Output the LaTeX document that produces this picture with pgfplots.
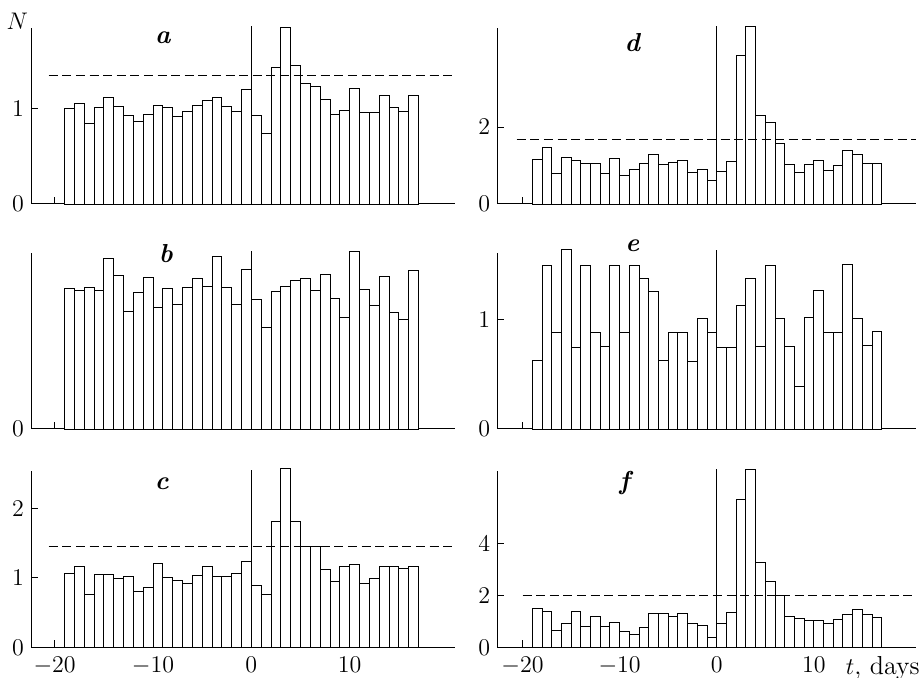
\documentclass[border=0pt]{standalone}
\usepackage{pgfplots}
\pgfplotsset{compat=1.18}
\tikzset{lett/.style={font=\fontsize{13}{15}\selectfont\bfseries\itshape}}
\begin{document}
\begin{tikzpicture}
\path[use as bounding box] (0,0) rectangle (459.5pt,339pt);
\pgfplotsset{
  panel/.style={scale only axis, height=88pt, anchor=south west,
    axis x line=bottom, axis y line=left,
    axis line style={-, line width=0.5pt},
    tick align=inside, major tick length=3.5pt,
    tick style={line width=0.5pt, black},
    xtick={-20,-10,0,10}, ymin=0, clip=false,
    ticklabel style={font=\fontsize{13}{15}\selectfont},
    xticklabel style={yshift=-1.2pt},
    every axis plot/.append style={line width=0.45pt}},
  lpanel/.style={width=212pt, xmin=-22.4, xmax=20.7},
  rpanel/.style={width=209.2pt, xmin=-22.6, xmax=20.5},
  notl/.style={xticklabels={}},
  bars/.style={ybar interval, fill=white, draw=black},
  dsh/.style={black, dash pattern=on 4.5pt off 2.3pt}
}
\node[font=\fontsize{13}{15}\selectfont] at (8.7pt,328.5pt) {$N$};
% panel a
\begin{axis}[panel, lpanel, notl, at={(15.5pt,237pt)}, ymax=1.85, ytick={0,1}]
\addplot[bars] coordinates {(-19,1.007)(-18,1.06)(-17,0.843)(-16,1.017)(-15,1.12)(-14,1.03)(-13,0.927)(-12,0.871)(-11,0.94)(-10,1.035)(-9,1.01)(-8,0.92)(-7,0.969)(-6,1.035)(-5,1.087)(-4,1.115)(-3,1.02)(-2,0.976)(-1,1.199)(0,0.927)(1,0.739)(2,1.436)(3,1.854)(4,1.456)(5,1.27)(6,1.237)(7,1.10)(8,0.94)(9,0.983)(10,1.216)(11,0.958)(12,0.958)(13,1.136)(14,1.017)(15,0.972)(16,1.139)(17,1.139)};
\addplot[black] coordinates {(0,0)(0,1.87)};
\addplot[dsh] coordinates {(-20.6,1.355)(20.7,1.355)};
\node[lett] at (axis cs:-9,1.75) {a};
\end{axis}
% panel b
\begin{axis}[panel, lpanel, notl, at={(15.5pt,124.5pt)}, ymax=1.847, ytick={0}]
\addplot[bars] coordinates {(-19,1.477)(-18,1.453)(-17,1.481)(-16,1.449)(-15,1.791)(-14,1.610)(-13,1.237)(-12,1.436)(-11,1.592)(-10,1.272)(-9,1.474)(-8,1.307)(-7,1.481)(-6,1.582)(-5,1.495)(-4,1.812)(-3,1.481)(-2,1.303)(-1,1.672)(0,1.359)(1,1.063)(2,1.446)(3,1.498)(4,1.554)(5,1.585)(6,1.453)(7,1.627)(8,1.369)(9,1.174)(10,1.861)(11,1.467)(12,1.300)(13,1.606)(14,1.226)(15,1.146)(16,1.666)(17,1.666)};
\addplot[black] coordinates {(0,0)(0,1.864)};
\node[lett] at (axis cs:-8.7,1.84) {b};
\end{axis}
% panel c
\begin{axis}[panel, lpanel, at={(15.5pt,15.35pt)}, ymax=2.536, ytick={0,1,2}]
\addplot[bars] coordinates {(-19,1.062)(-18,1.167)(-17,0.761)(-16,1.048)(-15,1.048)(-14,0.986)(-13,1.019)(-12,0.804)(-11,0.856)(-10,1.206)(-9,1.005)(-8,0.957)(-7,0.919)(-6,1.029)(-5,1.167)(-4,1.024)(-3,1.024)(-2,1.057)(-1,1.230)(0,0.895)(1,0.761)(2,1.813)(3,2.584)(4,1.818)(5,1.455)(6,1.455)(7,1.115)(8,0.947)(9,1.167)(10,1.187)(11,0.919)(12,0.995)(13,1.158)(14,1.158)(15,1.139)(16,1.167)(17,1.167)};
\addplot[black] coordinates {(0,0)(0,2.555)};
\addplot[dsh] coordinates {(-20.6,1.459)(20.7,1.459)};
\node[lett] at (axis cs:-9.1,2.35) {c};
\end{axis}
% panel d
\begin{axis}[panel, rpanel, notl, at={(248.65pt,237pt)}, ymax=4.58, ytick={0,2}]
\addplot[bars] coordinates {(-19,1.148)(-18,1.470)(-17,0.791)(-16,1.217)(-15,1.139)(-14,1.061)(-13,1.061)(-12,0.783)(-11,1.191)(-10,0.739)(-9,0.904)(-8,1.043)(-7,1.278)(-6,1.026)(-5,1.078)(-4,1.122)(-3,0.826)(-2,0.904)(-1,0.617)(0,0.843)(1,1.104)(2,3.861)(3,4.609)(4,2.296)(5,2.130)(6,1.565)(7,1.035)(8,0.826)(9,1.035)(10,1.139)(11,0.878)(12,1.009)(13,1.383)(14,1.287)(15,1.061)(16,1.061)(17,1.061)};
\addplot[black] coordinates {(0,0)(0,4.64)};
\addplot[dsh] coordinates {(-20.6,1.67)(20.5,1.67)};
\node[lett] at (axis cs:-8.7,4.19) {d};
\end{axis}
% panel e
\begin{axis}[panel, rpanel, notl, at={(248.65pt,124.5pt)}, ymax=1.607, ytick={0,1}]
\addplot[bars] coordinates {(-19,0.625)(-18,1.491)(-17,0.884)(-16,1.637)(-15,0.747)(-14,1.491)(-13,0.884)(-12,0.750)(-11,1.491)(-10,0.881)(-9,1.494)(-8,1.375)(-7,1.256)(-6,0.628)(-5,0.878)(-4,0.878)(-3,0.616)(-2,1.009)(-1,0.878)(0,0.747)(1,0.747)(2,1.125)(3,1.375)(4,0.750)(5,1.491)(6,1.009)(7,0.750)(8,0.387)(9,1.018)(10,1.268)(11,0.881)(12,0.881)(13,1.503)(14,1.009)(15,0.762)(16,0.893)(17,0.893)};
\addplot[black] coordinates {(0,0)(0,1.63)};
\node[lett] at (axis cs:-8.7,1.67) {e};
\end{axis}
% panel f
\begin{axis}[panel, rpanel, at={(248.65pt,15.35pt)}, ymax=6.8, ytick={0,2,4}]
\addplot[bars] coordinates {(-19,1.51)(-18,1.39)(-17,0.645)(-16,0.94)(-15,1.38)(-14,0.787)(-13,1.187)(-12,0.787)(-11,0.955)(-10,0.606)(-9,0.503)(-8,0.761)(-7,1.29)(-6,1.30)(-5,1.187)(-4,1.30)(-3,0.916)(-2,0.826)(-1,0.387)(0,0.94)(1,1.355)(2,5.73)(3,6.89)(4,3.28)(5,2.54)(6,2.01)(7,1.187)(8,1.12)(9,1.03)(10,1.03)(11,0.903)(12,1.084)(13,1.25)(14,1.47)(15,1.25)(16,1.15)(17,1.15)};
\addplot[black] coordinates {(0,0)(0,6.89)};
\addplot[dsh] coordinates {(-20,2.01)(20.5,2.01)};
\node[lett] at (axis cs:-9.5,6.35) {f};
\node[font=\fontsize{13}{15}\selectfont, anchor=base] at ([yshift=-13.8pt]axis cs:17.1,0) {$t$, days};
\end{axis}
\end{tikzpicture}
\end{document}
